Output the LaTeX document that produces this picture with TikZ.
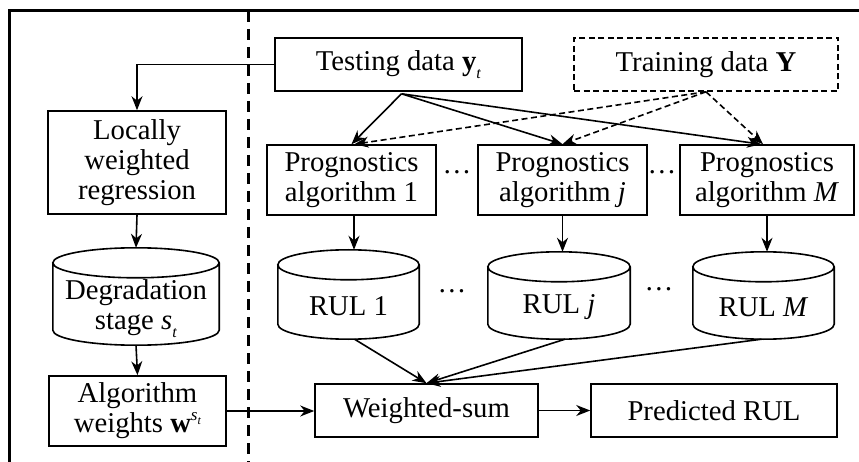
\documentclass[tikz,border=0pt]{standalone}
\usepackage{fontspec}
\setmainfont{Liberation Serif}
\usetikzlibrary{arrows.meta,calc}
\tikzset{
  line/.style={line width=1.6pt},
  arr/.style={line, -{Stealth[length=14pt,width=11pt,inset=4.5pt]}},
  darr/.style={arr, dash pattern=on 6pt off 3.5pt},
  box/.style={draw, line width=1.6pt, inner sep=0pt, align=center,
    font=\fontsize{28.7}{30}\selectfont},
  dbox/.style={box, dash pattern=on 6pt off 3.5pt},
  cylnode/.style={inner sep=0pt},
  lbl/.style={inner sep=0pt, align=center, font=\fontsize{28.7}{30}\selectfont},
  dots/.style={inner sep=0pt, font=\fontsize{28.7}{30}\selectfont}
}
\newcommand\drawcyl[1]{%
  \draw[line, fill=white] let \p1=(#1.north west), \p2=(#1.south east), \n1={(\x2-\x1)/2} in
    (\x1,\y1-15pt) -- (\x1,\y2+15pt) arc[start angle=180,end angle=360,x radius=\n1,y radius=15pt]
    -- (\x2,\y1-15pt) arc[start angle=0,end angle=180,x radius=\n1,y radius=15pt]
    arc[start angle=180,end angle=360,x radius=\n1,y radius=15pt];}
\newcommand\subt{\raisebox{-0.28em}{\fontsize{16}{16}\selectfont\textit{t}}}
\begin{document}
\begin{tikzpicture}[x=1pt,y=-1pt]
\useasboundingbox (0,0) rectangle (859,462);
\clip (0,0) rectangle (859,462);
% frame and divider
\draw[line width=3pt] (9.5,11) rectangle (880,480);
\draw[line width=3pt, dash pattern=on 11pt off 7pt] (248,11) -- (248,470);
% boxes
\node[box, minimum width=247pt, minimum height=53pt] (test) at (398.5,64.5) {Testing data \textbf{y}\subt};
\node[dbox, minimum width=264pt, minimum height=53pt] (train) at (706,64.5) {Training data \textbf{Y}};
\node[box, minimum width=178pt, minimum height=103pt] (lwr) at (137,162.5) {Locally\\weighted\\regression};
\node[box, minimum width=169pt, minimum height=70pt] (p1) at (351.5,180) {Prognostics\\algorithm 1};
\node[box, minimum width=169pt, minimum height=70pt] (pj) at (562.5,180) {Prognostics\\algorithm \textit{j}};
\node[box, minimum width=174pt, minimum height=70pt] (pM) at (767,180) {Prognostics\\algorithm \textit{M}};
\node[dots] (d1) at (457,172) {\dots};
\node[dots] (d2) at (662,172) {\dots};
% cylinders
\node[cylnode, minimum width=166pt, minimum height=97pt] (deg) at (136,296.5) {};
\node[cylnode, minimum width=141pt, minimum height=89pt] (r1) at (348.5,294.5) {};
\node[cylnode, minimum width=142pt, minimum height=87pt] (rj) at (559,295.5) {};
\node[cylnode, minimum width=141pt, minimum height=87pt] (rM) at (763.5,295.5) {};
\drawcyl{deg}
\drawcyl{r1}
\drawcyl{rj}
\drawcyl{rM}
\node[lbl] (degt) at ($(deg.center)+(0,12)$) {Degradation\\stage \textit{s}\subt};
\node[lbl] (r1t) at ($(r1.center)+(0,12)$) {RUL 1};
\node[lbl] (rjt) at ($(rj.center)+(0,12)$) {RUL \textit{j}};
\node[lbl] (rMt) at ($(rM.center)+(0,12)$) {RUL \textit{M}};
\node[dots] (d3) at (452,291) {\dots};
\node[dots] (d4) at (659,289) {\dots};
% bottom boxes
\node[box, minimum width=177pt, minimum height=70pt] (aw) at (137.5,411) {Algorithm\\weights \textbf{w}\raisebox{0.42em}{\fontsize{17}{17}\selectfont\textit{s}\raisebox{-0.2em}{\fontsize{12}{12}\selectfont\textit{t}}}};
\node[box, minimum width=223pt, minimum height=53pt] (ws) at (426.5,410.5) {Weighted-sum};
\node[box, minimum width=246pt, minimum height=53pt] (pr) at (714,410.5) {Predicted RUL};
% connectors
\coordinate (ts) at ($(test.south)+(3,2)$);
\draw[arr] (test.west) -| (lwr.north);
\draw[arr] (lwr.south) -- (deg.north);
\draw[arr] (deg.south) -- (aw.north);
\draw[arr] (aw.east) -- (ws.west |- aw.east);
\draw[arr] (ws.east) -- (pr.west);
\draw[arr] (ts) -- (p1.north);
\draw[arr] (ts) -- (pj.north);
\draw[arr] (ts) -- ($(pM.north)+(-6,0)$);
\draw[darr] (train.south) -- ($(p1.north)+(3,0)$);
\draw[darr] (train.south) -- (pj.north);
\draw[darr] (train.south) -- ($(pM.north)+(-4,0)$);
\draw[arr] ($(p1.south)+(2.5,0)$) -- ($(p1.south |- r1.north)+(2.5,0)$);
\draw[arr] (pj.south) -- (pj.south |- rj.north);
\draw[arr] (pM.south) -- (pM.south |- rM.north);
\draw[arr] ($(r1.south)+(6,0)$) -- (ws.north);
\draw[arr] ($(rj.south)+(6,0)$) -- (ws.north);
\draw[arr] ($(rM.south)+(-2,0)$) -- (ws.north);
\end{tikzpicture}
\end{document}
